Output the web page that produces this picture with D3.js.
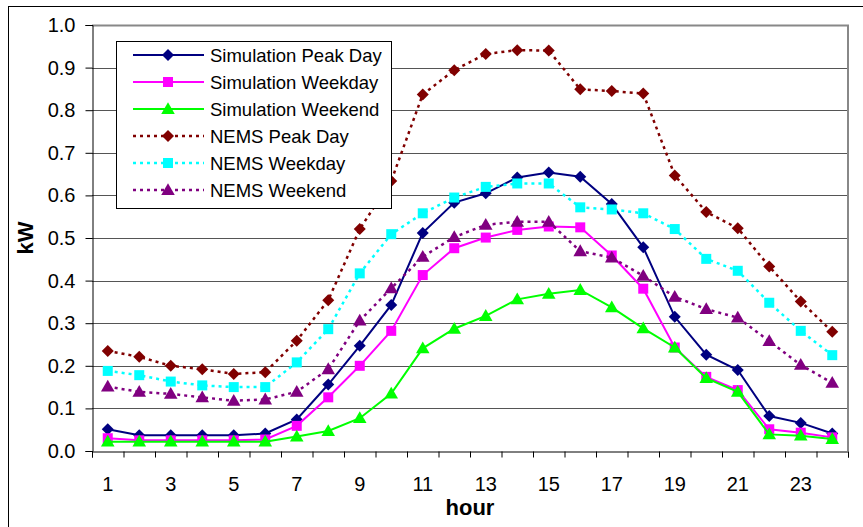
<!DOCTYPE html>
<html>
<head>
<meta charset="utf-8">
<script src="https://cdn.jsdelivr.net/npm/d3@7"></script>
<style>
  body { margin: 0; background: #fff; }
  text { font-family: "Liberation Sans", Arial, sans-serif; }
</style>
</head>
<body>
<div id="chart"></div>
<script>
// Data
const hours = [1, 2, 3, 4, 5, 6, 7, 8, 9, 10, 11, 12, 13, 14, 15, 16, 17, 18, 19, 20, 21, 22, 23, 24];
const simPeak = [0.051, 0.037, 0.037, 0.037, 0.037, 0.041, 0.074, 0.156, 0.247, 0.343, 0.512, 0.583, 0.605, 0.642, 0.654, 0.644, 0.580, 0.478, 0.315, 0.226, 0.190, 0.082, 0.066, 0.041];
const simWeekday = [0.030, 0.025, 0.025, 0.025, 0.025, 0.027, 0.059, 0.126, 0.200, 0.282, 0.413, 0.476, 0.501, 0.519, 0.527, 0.525, 0.459, 0.381, 0.243, 0.174, 0.143, 0.051, 0.043, 0.032];
const simWeekend = [0.022, 0.022, 0.022, 0.022, 0.022, 0.022, 0.034, 0.047, 0.077, 0.135, 0.241, 0.287, 0.317, 0.356, 0.369, 0.378, 0.337, 0.288, 0.243, 0.171, 0.139, 0.039, 0.036, 0.028];
const nemsPeak = [0.235, 0.221, 0.200, 0.192, 0.181, 0.185, 0.259, 0.354, 0.521, 0.634, 0.837, 0.894, 0.932, 0.941, 0.940, 0.849, 0.845, 0.839, 0.647, 0.561, 0.523, 0.433, 0.351, 0.280];
const nemsWeekday = [0.188, 0.178, 0.163, 0.154, 0.150, 0.150, 0.208, 0.286, 0.417, 0.509, 0.558, 0.595, 0.620, 0.628, 0.628, 0.572, 0.567, 0.558, 0.521, 0.451, 0.423, 0.348, 0.282, 0.225];
const nemsWeekend = [0.151, 0.139, 0.134, 0.126, 0.118, 0.121, 0.139, 0.192, 0.306, 0.382, 0.456, 0.502, 0.531, 0.538, 0.538, 0.469, 0.454, 0.411, 0.362, 0.333, 0.313, 0.258, 0.202, 0.160];
const yTicks = [0, 0.1, 0.2, 0.3, 0.4, 0.5, 0.6, 0.7, 0.8, 0.9, 1.0];

const series = [
  { name: "Simulation Peak Day", values: simPeak, color: "#000080", shape: "diamond", dashed: false },
  { name: "Simulation Weekday", values: simWeekday, color: "#ff00ff", shape: "square", dashed: false },
  { name: "Simulation Weekend", values: simWeekend, color: "#00ff00", shape: "triangle", dashed: false },
  { name: "NEMS Peak Day", values: nemsPeak, color: "#800000", shape: "diamond", dashed: true },
  { name: "NEMS Weekday", values: nemsWeekday, color: "#00ffff", shape: "square", dashed: true },
  { name: "NEMS Weekend", values: nemsWeekend, color: "#800080", shape: "triangle", dashed: true }
];

const W = 863, H = 527;
const plot = { left: 92, right: 848, top: 25, bottom: 451 };

const svg = d3.select("#chart").append("svg")
  .attr("width", W)
  .attr("height", H);

// outer chart border
svg.append("rect")
  .attr("x", 8.5).attr("y", 6.5)
  .attr("width", W).attr("height", H)
  .attr("fill", "none").attr("stroke", "#000").attr("stroke-width", 1);

const x = d3.scaleBand().domain(hours).range([plot.left, plot.right]);
const xEdge = d3.scaleLinear().domain([0, 24]).range([plot.left, plot.right]);
const y = d3.scaleLinear().domain([0, 1]).range([plot.bottom, plot.top]);

// gridlines
svg.append("g")
  .selectAll("line")
  .data(yTicks.slice(1, -1))
  .enter().append("line")
  .attr("x1", plot.left).attr("x2", plot.right)
  .attr("y1", d => Math.round(y(d)) + 0.5).attr("y2", d => Math.round(y(d)) + 0.5)
  .attr("stroke", "#555").attr("stroke-width", 1);

// plot area border (top/right grey)
svg.append("path")
  .attr("d", `M${plot.left},${plot.top + 0.5}H${plot.right}V${plot.bottom}`)
  .attr("fill", "none").attr("stroke", "#888").attr("stroke-width", 2);

// y axis
const yAxis = svg.append("g")
  .attr("transform", `translate(${plot.left + 0.5},0)`)
  .call(d3.axisLeft(y).tickValues(yTicks).tickFormat(d3.format(".1f")).tickSize(7).tickPadding(10));
yAxis.selectAll("text").style("font-size", "20px").attr("fill", "#000").style("font-family", "Liberation Sans, Arial, sans-serif");
yAxis.selectAll("line").attr("stroke", "#000");
yAxis.select(".domain").attr("stroke", "#000");

// x axis: ticks between categories
const xTickAxis = svg.append("g")
  .attr("transform", `translate(0,${plot.bottom + 0.5})`)
  .call(d3.axisBottom(xEdge).ticks(24).tickFormat("").tickSize(6).tickSizeOuter(6));
xTickAxis.selectAll("line").attr("stroke", "#000");
xTickAxis.select(".domain").attr("stroke", "#000");

// x labels on odd hours
const xLabels = svg.append("g")
  .attr("transform", `translate(0,${plot.bottom})`)
  .call(d3.axisBottom(x).tickValues(hours.filter(h => h % 2 === 1)).tickSize(0).tickPadding(26));
xLabels.select(".domain").remove();
xLabels.selectAll("text").style("font-size", "20px").attr("fill", "#000").style("font-family", "Liberation Sans, Arial, sans-serif");

// axis titles
svg.append("text")
  .attr("x", 470).attr("y", 515)
  .attr("text-anchor", "middle")
  .style("font-size", "22px").style("font-weight", "bold")
  .text("hour");

svg.append("text")
  .attr("transform", `translate(33,${(plot.top + plot.bottom) / 2}) rotate(-90)`)
  .attr("text-anchor", "middle")
  .style("font-size", "22px").style("font-weight", "bold")
  .text("kW");

// marker shapes
function markerPath(shape) {
  if (shape === "diamond") return d3.symbol(d3.symbolSquare, 72)();
  if (shape === "square") return d3.symbol(d3.symbolSquare, 100)();
  return d3.symbol(d3.symbolTriangle, 80)();
}
function markerTransform(shape, px, py) {
  if (shape === "diamond") return `translate(${px},${py}) rotate(45)`;
  if (shape === "triangle") return `translate(${px},${py + 1})`;
  return `translate(${px},${py})`;
}

const line = d3.line()
  .x((d, i) => x(hours[i]) + x.bandwidth() / 2)
  .y(d => y(d));

series.forEach(s => {
  svg.append("path")
    .datum(s.values)
    .attr("fill", "none")
    .attr("stroke", s.color)
    .attr("stroke-width", s.dashed ? 2.5 : 2)
    .attr("stroke-dasharray", s.dashed ? "3,4" : null)
    .attr("d", line);

  svg.append("g")
    .selectAll("path")
    .data(s.values)
    .enter().append("path")
    .attr("d", markerPath(s.shape))
    .attr("transform", (d, i) => markerTransform(s.shape, x(hours[i]) + x.bandwidth() / 2, y(d)))
    .attr("fill", s.color);
});

// legend
const legend = svg.append("g");
legend.append("rect")
  .attr("x", 116.5).attr("y", 41.5)
  .attr("width", 275).attr("height", 167)
  .attr("fill", "#fff").attr("stroke", "#000").attr("stroke-width", 1);

series.forEach((s, i) => {
  const ly = 55 + i * 27;
  legend.append("line")
    .attr("x1", 133).attr("x2", 204)
    .attr("y1", ly).attr("y2", ly)
    .attr("stroke", s.color)
    .attr("stroke-width", s.dashed ? 2.5 : 2)
    .attr("stroke-dasharray", s.dashed ? "3,4" : null);
  legend.append("path")
    .attr("d", markerPath(s.shape))
    .attr("transform", markerTransform(s.shape, 168, ly))
    .attr("fill", s.color);
  legend.append("text")
    .attr("x", 210).attr("y", ly)
    .attr("dy", "0.36em")
    .style("font-size", "18.5px")
    .text(s.name);
});
</script>
</body>
</html>
